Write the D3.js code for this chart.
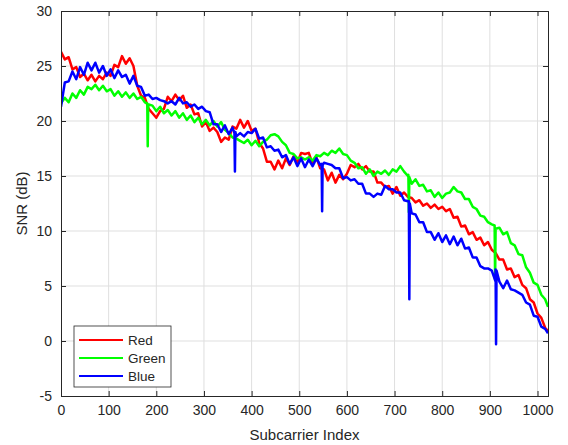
<!DOCTYPE html>
<html>
<head>
<meta charset="utf-8">
<script src="https://cdnjs.cloudflare.com/ajax/libs/d3/7.8.5/d3.min.js"></script>
<style>
  body { margin: 0; background: #fff; }
  text { font-family: "Liberation Sans", Arial, Helvetica, sans-serif; fill: #262626; }
</style>
</head>
<body>
<div id="chart"></div>
<script>
// subcarrier positions, one sample every 8 (last one at 1022)
var subcarrier = d3.range(0, 1017, 8).concat([1022]);

var redSnr = [26.3,25.6,25.8,24.7,24.9,24.0,24.3,23.7,24.2,23.6,24.1,23.8,24.4,24.1,25.1,24.9,
  25.9,25.2,25.7,25.0,23.2,22.3,22.1,21.1,20.7,20.3,20.9,21.1,22.2,21.8,22.4,21.9,
  22.3,21.2,21.5,20.6,20.7,19.5,19.9,19.1,19.4,19.0,18.1,18.5,18.3,19.5,19.3,20.1,
  19.4,20.0,19.1,19.3,18.0,17.5,16.3,16.3,15.6,16.4,15.7,16.6,16.0,16.8,16.2,17.1,
  17.0,17.1,16.1,16.7,15.7,15.6,14.6,15.3,14.4,15.1,14.7,15.2,16.0,15.8,16.1,15.6,
  15.9,15.4,15.4,14.4,14.4,14.0,14.1,13.4,14.0,13.2,13.5,13.1,13.0,12.6,12.8,12.3,
  12.5,12.1,12.4,12.0,12.2,11.8,12.0,11.2,11.3,10.4,10.5,9.7,9.9,9.2,9.4,8.7,
  9.0,8.3,8.0,7.4,7.4,6.5,6.6,5.8,6.0,5.1,4.8,3.8,3.5,2.5,2.1,1.2,0.9];

var greenSnr = [21.6,22.1,21.7,22.5,22.1,22.8,22.4,23.1,22.9,23.3,22.8,23.2,22.7,22.9,22.3,22.7,
  22.2,22.6,22.1,22.5,22.0,22.2,21.7,21.5,21.4,20.9,21.3,20.7,21.0,20.5,20.9,20.3,
  20.7,20.1,20.5,19.9,20.3,19.7,20.1,19.6,20.0,19.5,19.9,19.2,18.9,18.5,18.4,18.2,
  18.0,18.3,17.8,18.2,17.7,18.1,18.3,18.7,18.8,18.6,18.1,17.8,17.1,17.0,16.6,16.7,
  16.5,16.7,16.4,16.9,16.8,17.1,16.9,17.3,17.1,17.5,17.0,16.9,16.4,16.2,15.7,15.8,
  15.2,15.6,15.0,15.4,15.2,15.5,15.1,15.6,15.4,15.9,15.4,15.0,14.3,14.7,14.1,14.2,
  13.6,13.7,13.1,13.5,13.0,13.4,13.5,14.0,13.6,13.5,12.9,12.9,12.2,12.0,11.4,11.3,
  10.8,10.6,10.1,10.3,9.7,9.9,8.9,8.7,7.9,7.8,6.7,6.2,5.3,5.1,4.2,3.8,3.1];

var blueSnr = [21.3,23.5,23.6,24.5,23.8,24.9,24.2,25.3,24.6,25.3,24.4,25.0,24.1,24.7,23.9,24.6,
  24.0,24.2,23.4,24.1,23.2,23.1,22.3,22.4,22.0,22.1,21.9,21.8,21.6,21.8,21.5,22.1,
  21.6,21.7,21.3,21.5,21.1,21.3,20.9,20.8,19.7,19.7,19.0,19.6,18.8,19.4,18.6,18.9,
  18.6,19.0,18.9,19.3,18.4,18.5,17.6,17.7,17.3,17.4,16.7,16.9,16.1,16.7,15.9,16.6,
  15.8,16.5,15.9,16.6,16.0,16.2,16.1,16.0,15.7,15.7,14.8,14.9,14.6,14.7,14.3,14.3,
  13.4,13.4,13.1,13.4,13.3,14.1,13.8,13.8,13.5,13.5,12.8,12.7,11.6,11.5,10.8,10.8,
  9.9,9.9,9.2,9.8,9.0,9.6,8.8,9.5,8.7,9.3,8.4,8.5,7.6,7.6,6.8,6.6,
  6.6,6.4,5.4,5.4,4.8,5.5,4.7,4.6,4.4,4.2,3.5,3.3,2.3,2.2,1.3,1.1,0.7];

// pilot dips [subcarrier, snr]
var greenDips = [[181,21.6],[182,17.7],[183,21.5],[729,15.1],[730,11.7],[731,14.9],[910,10.5],[911,5.6],[912,10.2]];
var blueDips = [[364,18.9],[365,15.4],[366,19.0],[547,16.1],[548,11.8],[549,16.0],[730,12.7],[731,3.8],[732,12.5],[912,6.5],[913,-0.3],[914,6.4]];

var seriesNames = ["Red", "Green", "Blue"];
var seriesColors = ["#ff0000", "#00ff00", "#0000ff"];
var xTicks = d3.range(0, 1001, 100);
var yTicks = d3.range(-5, 31, 5);

function build(values, dips) {
  var pts = subcarrier.map(function(x, i) { return [x, values[i]]; });
  pts = pts.concat(dips);
  pts.sort(function(a, b) { return a[0] - b[0]; });
  return pts;
}
var allSeries = [build(redSnr, []), build(greenSnr, greenDips), build(blueSnr, blueDips)];

var width = 568, height = 445,
    margin = {top: 11, right: 20, bottom: 49, left: 61};
var innerW = width - margin.left - margin.right,
    innerH = height - margin.top - margin.bottom;

var svg = d3.select('#chart').append('svg')
    .attr('width', width)
    .attr('height', height);

var g = svg.append('g')
    .attr('transform', 'translate(' + margin.left + ',' + margin.top + ')');

var x = d3.scaleLinear().domain([0, 1022]).range([0, innerW]);
var y = d3.scaleLinear().domain([-5, 30]).range([innerH, 0]);

// grid
g.append('g').selectAll('line').data(xTicks.slice(1)).enter().append('line')
    .attr('x1', function(d) { return x(d); }).attr('x2', function(d) { return x(d); })
    .attr('y1', 0).attr('y2', innerH)
    .attr('stroke', '#dfdfdf').attr('stroke-width', 1);
g.append('g').selectAll('line').data(yTicks.slice(1, -1)).enter().append('line')
    .attr('y1', function(d) { return y(d); }).attr('y2', function(d) { return y(d); })
    .attr('x1', 0).attr('x2', innerW)
    .attr('stroke', '#dfdfdf').attr('stroke-width', 1);

g.append('clipPath').attr('id', 'clip')
  .append('rect').attr('width', innerW).attr('height', innerH);

var line = d3.line()
    .x(function(d) { return x(d[0]); })
    .y(function(d) { return y(d[1]); });

g.append('g').attr('clip-path', 'url(#clip)')
  .selectAll('path').data(allSeries).enter().append('path')
    .attr('d', line)
    .attr('fill', 'none')
    .attr('stroke', function(d, i) { return seriesColors[i]; })
    .attr('stroke-width', 2.5)
    .attr('stroke-linejoin', 'round');

// axes, ticks pointing inward, mirrored on top/right
var tickLen = 5;
var fmt = function(d) { return String(d); };
var xAxis = g.append('g').attr('transform', 'translate(0,' + innerH + ')')
    .call(d3.axisBottom(x).tickValues(xTicks).tickSize(-tickLen).tickPadding(9).tickFormat(fmt));
var xTop = g.append('g')
    .call(d3.axisTop(x).tickValues(xTicks).tickSize(-tickLen).tickFormat(''));
var yAxis = g.append('g')
    .call(d3.axisLeft(y).tickValues(yTicks).tickSize(-tickLen).tickPadding(9).tickFormat(fmt));
var yRight = g.append('g').attr('transform', 'translate(' + innerW + ',0)')
    .call(d3.axisRight(y).tickValues(yTicks).tickSize(-tickLen).tickFormat(''));

[xAxis, xTop, yAxis, yRight].forEach(function(a) {
  a.select('.domain').attr('stroke', '#262626');
  a.selectAll('.tick line').attr('stroke', '#262626');
  a.selectAll('text').style('font-size', '14px').attr('fill', '#262626')
   .style('font-family', '"Liberation Sans", Arial, sans-serif');
});

svg.append('text')
    .attr('x', margin.left + innerW / 2)
    .attr('y', 440)
    .attr('text-anchor', 'middle')
    .style('font-size', '15px')
    .text('Subcarrier Index');

svg.append('text')
    .attr('transform', 'translate(27,' + (margin.top + innerH / 2) + ') rotate(-90)')
    .attr('text-anchor', 'middle')
    .style('font-size', '15px')
    .text('SNR (dB)');

// legend
var legend = svg.append('g').attr('transform', 'translate(74,326)');
legend.append('rect')
    .attr('width', 97).attr('height', 61)
    .attr('fill', '#fff').attr('stroke', '#262626').attr('stroke-width', 0.8);
seriesNames.forEach(function(name, i) {
  var ly = 14 + i * 18;
  legend.append('line')
      .attr('x1', 5).attr('x2', 49).attr('y1', ly).attr('y2', ly)
      .attr('stroke', seriesColors[i]).attr('stroke-width', 2.2);
  legend.append('text')
      .attr('x', 54).attr('y', ly + 5)
      .style('font-size', '13.5px')
      .text(name);
});
</script>
</body>
</html>
